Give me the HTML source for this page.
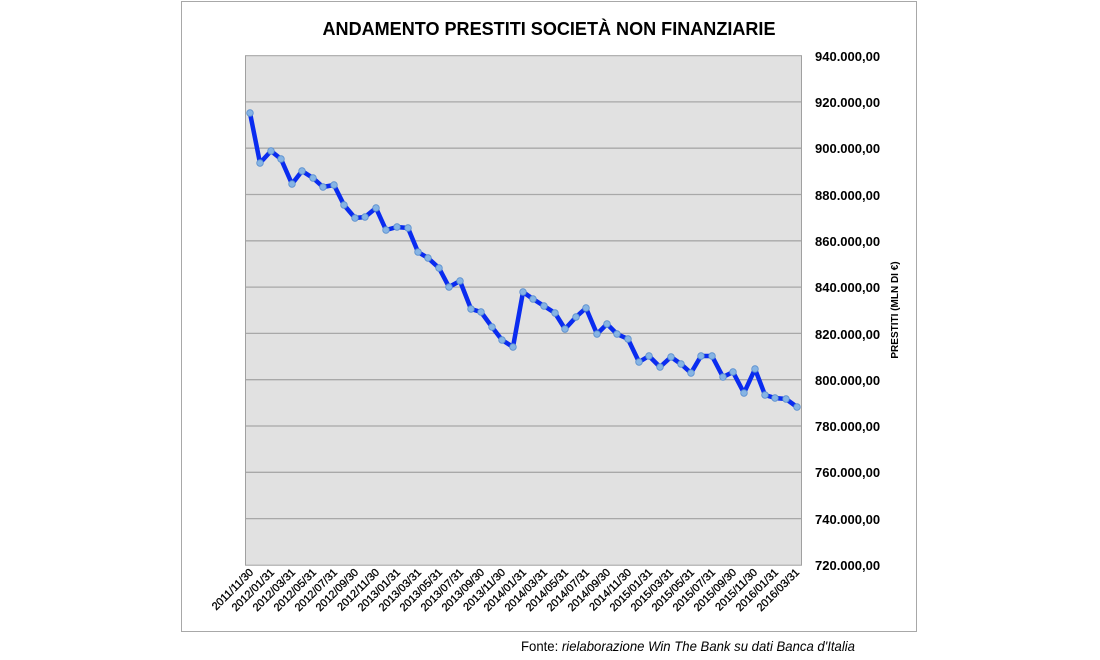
<!DOCTYPE html>
<html><head><meta charset="utf-8"><style>body{margin:0;background:#fff}svg{display:block}</style></head><body>
<svg width="1100" height="660" xmlns="http://www.w3.org/2000/svg" font-family="Liberation Sans, sans-serif">
<rect x="181.5" y="1.5" width="735" height="630" fill="#fff" stroke="#a8a8a8" stroke-width="1"/>
<text x="549" y="35" font-size="18" font-weight="bold" text-anchor="middle" textLength="453" lengthAdjust="spacingAndGlyphs">ANDAMENTO PRESTITI SOCIETÀ NON FINANZIARIE</text>
<rect x="245.5" y="55.7" width="556" height="509.5" fill="#e1e1e1" stroke="#a0a0a0"/>
<g stroke="#a8a8a8" stroke-width="1.3">
<line x1="246" x2="801" y1="101.9" y2="101.9"/><line x1="246" x2="801" y1="148.2" y2="148.2"/><line x1="246" x2="801" y1="194.5" y2="194.5"/><line x1="246" x2="801" y1="240.8" y2="240.8"/><line x1="246" x2="801" y1="287.1" y2="287.1"/><line x1="246" x2="801" y1="333.4" y2="333.4"/><line x1="246" x2="801" y1="379.7" y2="379.7"/><line x1="246" x2="801" y1="426" y2="426"/><line x1="246" x2="801" y1="472.3" y2="472.3"/><line x1="246" x2="801" y1="518.6" y2="518.6"/>
</g>
<g font-size="13" font-weight="bold" fill="#000">
<text x="815" y="61">940.000,00</text><text x="815" y="107">920.000,00</text><text x="815" y="153">900.000,00</text><text x="815" y="200">880.000,00</text><text x="815" y="246">860.000,00</text><text x="815" y="292">840.000,00</text><text x="815" y="339">820.000,00</text><text x="815" y="385">800.000,00</text><text x="815" y="431">780.000,00</text><text x="815" y="477">760.000,00</text><text x="815" y="524">740.000,00</text><text x="815" y="570">720.000,00</text>
</g>
<text transform="translate(898,310) rotate(-90)" font-size="10" font-weight="bold" text-anchor="middle">PRESTITI (MLN DI €)</text>
<polyline fill="none" stroke="#0a2cf0" stroke-width="4.5" stroke-linejoin="round" points="250,113 260,163 271,151 281,159 292,184 302,171 313,178 323,187 334,185 344,205 355,218 365,217 376,208 386,230 397,227 408,228 418,252 428,258 439,268 449,287 460,281 471,309 481,312 492,327 502,340 513,347 523,292 533,299 544,306 555,313 565,329 576,317 586,308 597,334 607,324 617,334 628,339 639,362 649,356 660,367 671,357 681,364 691,373 701,356 712,356 723,377 733,372 744,393 755,369 765,395 775,398 786,399 797,407"/>
<g fill="#86b4e4" stroke="#5a8fcf" stroke-width="0.8">
<circle cx="250" cy="113" r="3.3"/><circle cx="260" cy="163" r="3.3"/><circle cx="271" cy="151" r="3.3"/><circle cx="281" cy="159" r="3.3"/><circle cx="292" cy="184" r="3.3"/><circle cx="302" cy="171" r="3.3"/><circle cx="313" cy="178" r="3.3"/><circle cx="323" cy="187" r="3.3"/><circle cx="334" cy="185" r="3.3"/><circle cx="344" cy="205" r="3.3"/><circle cx="355" cy="218" r="3.3"/><circle cx="365" cy="217" r="3.3"/><circle cx="376" cy="208" r="3.3"/><circle cx="386" cy="230" r="3.3"/><circle cx="397" cy="227" r="3.3"/><circle cx="408" cy="228" r="3.3"/><circle cx="418" cy="252" r="3.3"/><circle cx="428" cy="258" r="3.3"/><circle cx="439" cy="268" r="3.3"/><circle cx="449" cy="287" r="3.3"/><circle cx="460" cy="281" r="3.3"/><circle cx="471" cy="309" r="3.3"/><circle cx="481" cy="312" r="3.3"/><circle cx="492" cy="327" r="3.3"/><circle cx="502" cy="340" r="3.3"/><circle cx="513" cy="347" r="3.3"/><circle cx="523" cy="292" r="3.3"/><circle cx="533" cy="299" r="3.3"/><circle cx="544" cy="306" r="3.3"/><circle cx="555" cy="313" r="3.3"/><circle cx="565" cy="329" r="3.3"/><circle cx="576" cy="317" r="3.3"/><circle cx="586" cy="308" r="3.3"/><circle cx="597" cy="334" r="3.3"/><circle cx="607" cy="324" r="3.3"/><circle cx="617" cy="334" r="3.3"/><circle cx="628" cy="339" r="3.3"/><circle cx="639" cy="362" r="3.3"/><circle cx="649" cy="356" r="3.3"/><circle cx="660" cy="367" r="3.3"/><circle cx="671" cy="357" r="3.3"/><circle cx="681" cy="364" r="3.3"/><circle cx="691" cy="373" r="3.3"/><circle cx="701" cy="356" r="3.3"/><circle cx="712" cy="356" r="3.3"/><circle cx="723" cy="377" r="3.3"/><circle cx="733" cy="372" r="3.3"/><circle cx="744" cy="393" r="3.3"/><circle cx="755" cy="369" r="3.3"/><circle cx="765" cy="395" r="3.3"/><circle cx="775" cy="398" r="3.3"/><circle cx="786" cy="399" r="3.3"/><circle cx="797" cy="407" r="3.3"/>
</g>
<g font-size="11" text-anchor="end" fill="#000" stroke="#000" stroke-width="0.3">
<text transform="translate(254,573) rotate(-45)">2011/11/30</text>
<text transform="translate(275,573) rotate(-45)">2012/01/31</text>
<text transform="translate(296,573) rotate(-45)">2012/03/31</text>
<text transform="translate(317,573) rotate(-45)">2012/05/31</text>
<text transform="translate(338,573) rotate(-45)">2012/07/31</text>
<text transform="translate(359,573) rotate(-45)">2012/09/30</text>
<text transform="translate(380,573) rotate(-45)">2012/11/30</text>
<text transform="translate(401,573) rotate(-45)">2013/01/31</text>
<text transform="translate(422,573) rotate(-45)">2013/03/31</text>
<text transform="translate(443,573) rotate(-45)">2013/05/31</text>
<text transform="translate(464,573) rotate(-45)">2013/07/31</text>
<text transform="translate(485,573) rotate(-45)">2013/09/30</text>
<text transform="translate(506,573) rotate(-45)">2013/11/30</text>
<text transform="translate(527,573) rotate(-45)">2014/01/31</text>
<text transform="translate(548,573) rotate(-45)">2014/03/31</text>
<text transform="translate(569,573) rotate(-45)">2014/05/31</text>
<text transform="translate(590,573) rotate(-45)">2014/07/31</text>
<text transform="translate(611,573) rotate(-45)">2014/09/30</text>
<text transform="translate(632,573) rotate(-45)">2014/11/30</text>
<text transform="translate(653,573) rotate(-45)">2015/01/31</text>
<text transform="translate(674,573) rotate(-45)">2015/03/31</text>
<text transform="translate(695,573) rotate(-45)">2015/05/31</text>
<text transform="translate(716,573) rotate(-45)">2015/07/31</text>
<text transform="translate(737,573) rotate(-45)">2015/09/30</text>
<text transform="translate(758,573) rotate(-45)">2015/11/30</text>
<text transform="translate(779,573) rotate(-45)">2016/01/31</text>
<text transform="translate(800,573) rotate(-45)">2016/03/31</text>
</g>
<text x="521" y="651" font-size="14" textLength="334" lengthAdjust="spacingAndGlyphs">Fonte: <tspan font-style="italic">rielaborazione Win The Bank su dati Banca d'Italia</tspan></text>
</svg>
</body></html>
